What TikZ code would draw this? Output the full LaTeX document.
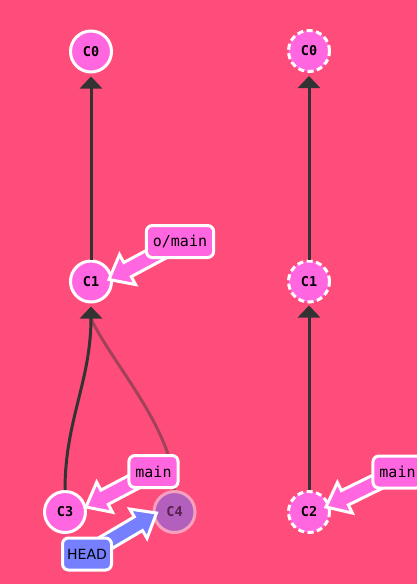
\documentclass[tikz,border=0pt]{standalone}
\usepackage{fontspec}
\setmainfont{DejaVu Sans}
\setmonofont{DejaVu Sans Mono}
\usetikzlibrary{calc,arrows.meta}

\definecolor{bgred}{HTML}{FF4D7B}
\definecolor{commitpink}{HTML}{FF66E0}
\definecolor{headblue}{HTML}{7680FF}
\definecolor{edgegray}{HTML}{333333}
\definecolor{ghostfill}{HTML}{B25FBE}
\definecolor{ghostline}{HTML}{F7A0BE}
\definecolor{ghosttext}{HTML}{5A2050}

% block arrow from #1 (tail) to #2 (tip), filled with #3
\newcommand\branchptr[3]{%
  \draw[white, line width=3pt, line join=miter, fill=#3]
    ($(#1)!8pt!-90:(#2)$)
    -- ($($(#2)!21pt!(#1)$)!8pt!-90:(#2)$)
    -- ($($(#2)!21pt!(#1)$)!17pt!-90:(#2)$)
    -- (#2)
    -- ($($(#2)!21pt!(#1)$)!17pt!90:(#2)$)
    -- ($($(#2)!21pt!(#1)$)!8pt!90:(#2)$)
    -- ($(#1)!8pt!90:(#2)$)
    -- cycle;}

\tikzset{
  commit/.style={circle, minimum size=41pt, inner sep=0pt, line width=3pt,
    draw=white, fill=commitpink, font=\ttfamily\bfseries\fontsize{13.5}{14}\selectfont},
  remotecommit/.style={commit, dash pattern=on 6pt off 3.5pt},
  ghostcommit/.style={commit, draw=ghostline, fill=ghostfill, text=ghosttext},
  edge/.style={draw=edgegray, line width=3pt, -{Triangle[length=12pt,width=22pt]}},
  ghostedge/.style={draw=edgegray, draw opacity=0.45, line width=3pt},
  branchbox/.style={rectangle, rounded corners=6pt, line width=3pt, draw=white,
    fill=commitpink, minimum height=32pt, inner xsep=6.5pt,
    font=\ttfamily\fontsize{15}{16}\selectfont},
  headbox/.style={branchbox, fill=headblue, minimum width=49pt, inner xsep=4pt,
    font=\rmfamily\fontsize{14}{15}\selectfont}
}

\begin{document}
\begin{tikzpicture}[x=1pt, y=-1pt]
  \fill[bgred] (0,0) rectangle (417,584);
  \useasboundingbox (0,0) rectangle (417,584);
  \clip (0,0) rectangle (417,584);

  % local history
  \node[commit] (c0l) at (91,51.5) {C0};
  \node[commit] (c1l) at (91,281.5) {C1};
  \node[commit] (c3) at (65,512) {C3};
  \node[ghostcommit] (c4) at (174.5,512) {C4};

  % remote history
  \node[remotecommit] (c0r) at (309,51) {C0};
  \node[remotecommit] (c1r) at (309,281.5) {C1};
  \node[remotecommit] (c2) at (309,512) {C2};

  % parent links
  \draw[ghostedge] (c4.north) .. controls +(0,-60) and +(19,42) .. ($(c1l.south)+(0,15)$);
  \draw[edge, shorten >=3pt] (c1l) -- (c0l);
  \draw[edge] (c3.north) .. controls +(0,-70) and +(0,75) .. ($(c1l.south)+(0,3)$);
  \draw[edge, shorten >=3pt] (c1r) -- (c0r);
  \draw[edge, shorten >=2pt] (c2) -- (c1r);

  % branch label anchors and pointer tips
  \coordinate (omainpos) at (180,241.5);
  \coordinate (mainlpos) at (153.5,471.5);
  \coordinate (mainrpos) at (397.5,472);
  \coordinate (headpos) at (87,554);
  \coordinate (omaintip) at ($(c1l)+(18,-2)$);
  \coordinate (mainltip) at ($(c3)+(21,-5)$);
  \coordinate (mainrtip) at ($(c2)+(17,-5)$);
  \coordinate (headtip) at ($(c4)+(-18,1)$);

  \branchptr{omainpos}{omaintip}{commitpink}
  \branchptr{mainlpos}{mainltip}{commitpink}
  \branchptr{mainrpos}{mainrtip}{commitpink}
  \branchptr{headpos}{headtip}{headblue}

  \node[branchbox] (omain) at (omainpos) {o/main};
  \node[branchbox] (mainl) at (mainlpos) {main};
  \node[branchbox] (mainr) at (mainrpos) {main};
  \node[headbox] (head) at (headpos) {HEAD};
\end{tikzpicture}
\end{document}
